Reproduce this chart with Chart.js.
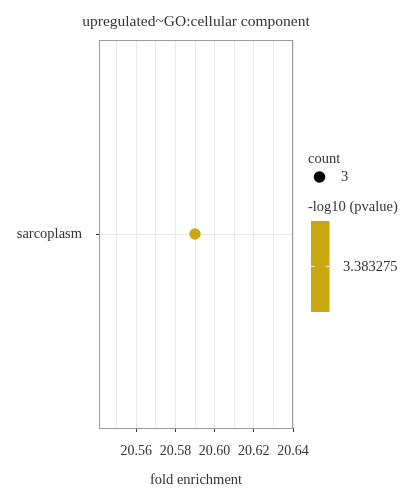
<!DOCTYPE html>
<html>
<head>
<meta charset="utf-8">
<script src="https://cdn.jsdelivr.net/npm/chart.js@4"></script>
<style>
  html, body { margin: 0; padding: 0; background: #fff; }
  #wrap { width: 417px; height: 500px; position: relative; }
</style>
</head>
<body>
<div id="wrap"><canvas id="dotChart"></canvas></div>
<script>
// data
const terms = ['sarcoplasm'];
const foldEnrichment = [20.59];
const counts = [3];
const negLog10P = [3.383275];
const xTicks = [20.55, 20.56, 20.57, 20.58, 20.59, 20.60, 20.61, 20.62, 20.63, 20.64];
const xMajor = [20.56, 20.58, 20.60, 20.62, 20.64];

const titleText = 'upregulated~GO:cellular component';
const dotColor = '#c9a80f';
const serif = '"Liberation Serif", "DejaVu Serif", serif';
const textColor = '#333333';

function isMajor(v) {
  return xMajor.some(m => Math.abs(m - v) < 1e-6);
}

// title, panel border and legend are drawn by hand
const extras = {
  id: 'extras',
  afterDraw(chart) {
    const ctx = chart.ctx;
    const a = chart.chartArea;
    ctx.save();
    // panel border
    ctx.strokeStyle = '#9a9a9a';
    ctx.lineWidth = 1;
    ctx.strokeRect(a.left + 0.5, a.top + 0.5, a.right - a.left - 1, a.bottom - a.top);
    // title
    ctx.fillStyle = textColor;
    ctx.font = '15.5px ' + serif;
    ctx.textAlign = 'center';
    ctx.textBaseline = 'middle';
    ctx.fillText(titleText, (a.left + a.right) / 2, 22);

    // legend: count
    ctx.textAlign = 'left';
    ctx.font = '14.5px ' + serif;
    ctx.fillText('count', 308, 159);
    ctx.fillStyle = '#000';
    ctx.beginPath();
    ctx.arc(319.5, 177, 5.8, 0, Math.PI * 2);
    ctx.fill();
    ctx.fillStyle = textColor;
    ctx.fillText(String(counts[0]), 341, 177);

    // legend: colour bar
    ctx.fillText('-log10 (pvalue)', 308, 207);
    ctx.fillStyle = dotColor;
    ctx.fillRect(311, 221, 18.5, 91);
    ctx.strokeStyle = '#ffffff';
    ctx.beginPath();
    ctx.moveTo(311, 266.5); ctx.lineTo(314.5, 266.5);
    ctx.moveTo(326, 266.5); ctx.lineTo(329.5, 266.5);
    ctx.stroke();
    ctx.fillStyle = textColor;
    ctx.fillText(String(negLog10P[0]), 343, 267);
    ctx.restore();
  }
};

const ctx = document.getElementById('dotChart').getContext('2d');
const dotChart = new Chart(ctx, {
  type: 'scatter',
  data: {
    datasets: [{
      label: 'terms',
      data: terms.map((t, i) => ({ x: foldEnrichment[i], y: t })),
      pointRadius: counts.map(c => c * 1.9),
      pointBackgroundColor: dotColor,
      pointBorderColor: dotColor,
      pointBorderWidth: 0
    }]
  },
  options: {
    responsive: true,
    maintainAspectRatio: false,
    animation: false,
    layout: { padding: { top: 40, right: 124, left: 0, bottom: 0 } },
    plugins: {
      legend: { display: false },
      tooltip: { enabled: false }
    },
    scales: {
      x: {
        type: 'linear',
        min: 20.541,
        max: 20.64,
        afterBuildTicks: function (scale) {
          scale.ticks = xTicks.map(v => ({ value: v }));
        },
        afterFit: function (scale) { scale.height = 72; },
        ticks: {
          autoSkip: false,
          maxRotation: 0,
          padding: 11,
          color: textColor,
          font: { family: serif, size: 14 },
          callback: function (v) { return isMajor(v) ? v.toFixed(2) : ''; }
        },
        grid: {
          color: '#e8e8e8',
          lineWidth: 1,
          tickLength: 4,
          tickColor: function (c) { return c.tick && isMajor(c.tick.value) ? '#333' : 'rgba(0,0,0,0)'; }
        },
        border: { display: true, color: '#666', width: 1 },
        title: {
          display: true,
          text: 'fold enrichment',
          color: textColor,
          font: { family: serif, size: 14.5 },
          padding: { top: 0, bottom: 11 }
        }
      },
      y: {
        type: 'category',
        labels: terms,
        offset: true,
        afterFit: function (scale) { scale.width = 99; },
        ticks: {
          padding: 14,
          color: textColor,
          font: { family: serif, size: 14.5 }
        },
        grid: {
          color: '#e8e8e8',
          tickLength: 3,
          tickColor: '#333',
          offset: false
        },
        border: { display: true, color: '#9a9a9a' }
      }
    }
  },
  plugins: [extras]
});
</script>
</body>
</html>
